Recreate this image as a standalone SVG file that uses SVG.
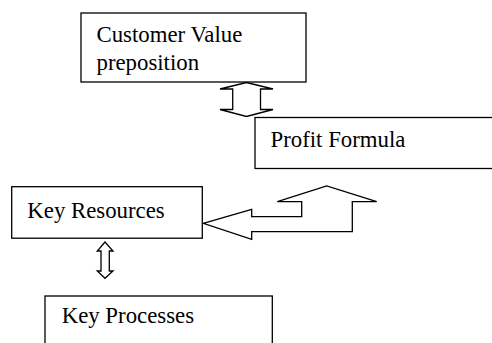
<svg xmlns="http://www.w3.org/2000/svg" width="492" height="343" viewBox="0 0 492 343">
<style>
.box{fill:#fff;stroke:#000;stroke-width:1.3}
.arr{fill:#fff;stroke:#000;stroke-width:1.3;stroke-linejoin:miter}
.t{font-family:"Liberation Serif","Times New Roman",serif;font-size:22.8px;fill:#000}
</style>
<rect width="492" height="343" fill="#fff"/>
<g id="connectors">
<polygon class="arr" points="246.5,82.5 220,89 232.7,89 232.7,109.5 220,109.5 246.5,116.5 273,109.5 260.5,109.5 260.5,89 273,89"/>
<polygon class="arr" points="203.3,223.3 251.7,209.3 251.7,216.7 301.7,216.7 301.7,201.7 277.3,201.7 326.7,186 376.7,201.7 352.3,201.7 352.3,231.7 251.7,231.7 251.7,239.3"/>
<polygon class="arr" points="105,242 97.3,251 101,251 101,271 97.3,271 105,278.3 113,271 109.3,271 109.3,251 113,251"/>
</g>
<g id="customer-value">
<rect class="box" x="81" y="13" width="225" height="69"/>
<text class="t" x="96.5" y="41.5">Customer Value</text>
<text class="t" x="96.5" y="70">preposition</text>
</g>
<g id="profit-formula">
<rect class="box" x="255" y="117.5" width="250" height="51"/>
<text class="t" x="270.5" y="146.5">Profit Formula</text>
</g>
<g id="key-resources">
<rect class="box" x="11.7" y="186.7" width="190.6" height="51.5"/>
<text class="t" x="27.3" y="218.3">Key Resources</text>
</g>
<g id="key-processes">
<rect class="box" x="45" y="296" width="227.3" height="60"/>
<text class="t" x="61.7" y="323.3">Key Processes</text>
</g>
</svg>
